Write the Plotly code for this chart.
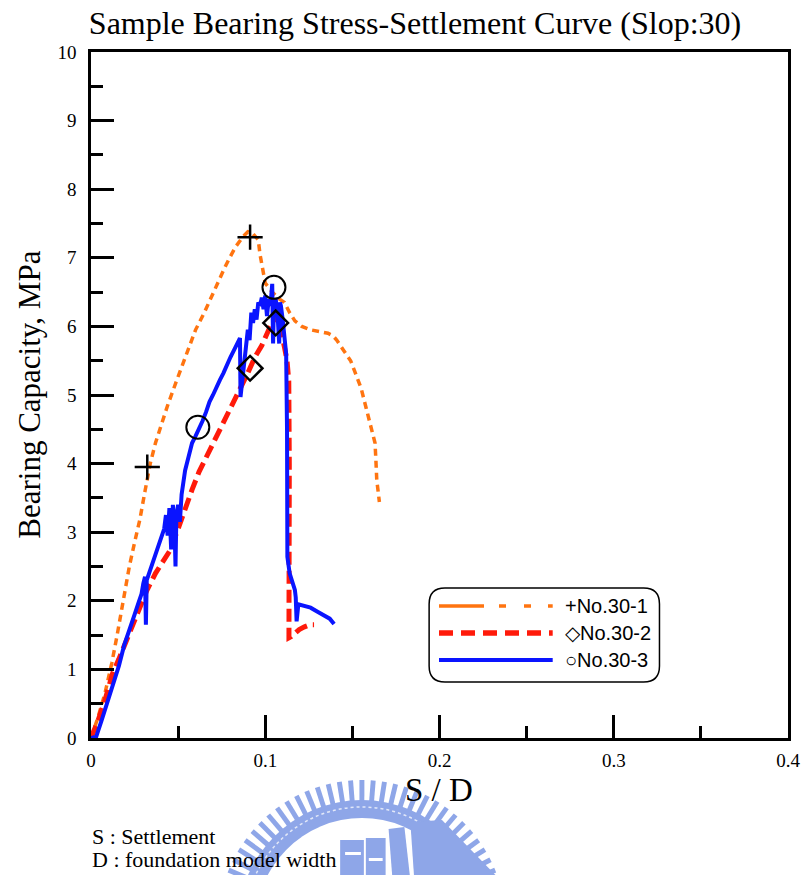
import math
import plotly.graph_objects as go

# ---- measured series: settlement ratio S/D vs bearing stress (MPa) ----
x_301 = [0, 0.004, 0.008, 0.012, 0.015, 0.018, 0.022, 0.025, 0.028, 0.031, 0.034, 0.037,
         0.040, 0.044, 0.049, 0.054, 0.060, 0.065, 0.069, 0.073, 0.077, 0.080, 0.083, 0.087,
         0.090, 0.093, 0.096, 0.097, 0.098, 0.100, 0.104, 0.108, 0.111, 0.114, 0.117, 0.121,
         0.126, 0.131, 0.136, 0.139, 0.141, 0.145, 0.149, 0.152, 0.155, 0.158, 0.161, 0.163,
         0.1635, 0.164, 0.165, 0.1655]
y_301 = [0, 0.30, 0.65, 1.10, 1.50, 1.95, 2.50, 2.85, 3.18, 3.60, 4.00, 4.30,
         4.55, 4.85, 5.20, 5.55, 5.95, 6.20, 6.43, 6.65, 6.87, 7.02, 7.16, 7.30,
         7.38, 7.35, 7.26, 7.05, 6.90, 6.63, 6.50, 6.40, 6.35, 6.20, 6.08, 6.00,
         5.95, 5.92, 5.90, 5.86, 5.80, 5.65, 5.50, 5.30, 5.10, 4.80, 4.50, 4.30,
         4.05, 3.76, 3.55, 3.44]

x_302 = [0, 0.004, 0.008, 0.0125, 0.016, 0.020, 0.024, 0.028, 0.032, 0.037, 0.042, 0.045,
         0.050, 0.054, 0.058, 0.062, 0.066, 0.070, 0.074, 0.078, 0.082, 0.086, 0.090, 0.094,
         0.098, 0.102, 0.105, 0.107, 0.108, 0.1095, 0.111, 0.1125, 0.1135, 0.1138, 0.1138,
         0.1136, 0.115, 0.117, 0.1195, 0.1225, 0.1255, 0.128]
y_302 = [0, 0.25, 0.55, 0.95, 1.15, 1.40, 1.65, 1.90, 2.15, 2.40, 2.60, 2.72,
         3.05, 3.35, 3.62, 3.88, 4.08, 4.28, 4.50, 4.72, 4.92, 5.10, 5.32, 5.55,
         5.72, 5.95, 6.10, 6.18, 6.05, 5.90, 5.70, 5.50, 5.20, 4.00, 2.50,
         1.46, 1.48, 1.53, 1.58, 1.62, 1.65, 1.65]

x_303 = [0, 0.003, 0.006, 0.009, 0.0125, 0.016, 0.019, 0.022, 0.025, 0.027, 0.029, 0.030,
         0.031, 0.0315, 0.032, 0.034, 0.036, 0.038, 0.040, 0.042, 0.043, 0.044, 0.045, 0.046,
         0.047, 0.048, 0.0485, 0.049, 0.050, 0.051, 0.052, 0.054, 0.056, 0.058, 0.060, 0.062,
         0.064, 0.066, 0.068, 0.070, 0.072, 0.074, 0.076, 0.078, 0.080, 0.082, 0.084, 0.0855,
         0.0858, 0.087, 0.088, 0.089, 0.090, 0.091, 0.092, 0.093, 0.094, 0.095, 0.096, 0.097,
         0.098, 0.099, 0.100, 0.101, 0.102, 0.103, 0.104, 0.1045, 0.105, 0.106, 0.107, 0.108,
         0.1085, 0.109, 0.110, 0.111, 0.112, 0.1125, 0.1125, 0.1127, 0.114, 0.116, 0.117,
         0.1175, 0.118, 0.119, 0.122, 0.126, 0.130, 0.134, 0.137, 0.1395]
y_303 = [0, 0.02, 0.25, 0.50, 0.75, 1.05, 1.35, 1.60, 1.80, 1.95, 2.10, 2.25,
         2.35, 1.65, 2.30, 2.45, 2.60, 2.78, 2.90, 3.05, 3.25, 2.95, 3.35, 2.75,
         3.40, 3.00, 2.50, 3.25, 3.40, 3.15, 3.55, 3.90, 4.10, 4.30, 4.40, 4.50,
         4.62, 4.75, 4.90, 5.00, 5.12, 5.22, 5.32, 5.45, 5.55, 5.65, 5.75, 5.83,
         4.97, 5.25, 5.50, 5.70, 5.95, 5.80, 6.20, 6.05, 6.25, 6.10, 6.35, 6.30,
         6.42, 6.25, 6.45, 6.15, 6.40, 6.30, 6.62, 5.75, 6.35, 6.40, 6.20, 5.75,
         6.35, 6.30, 6.10, 5.85, 5.60, 4.50, 3.00, 2.64, 2.40, 2.25, 2.16,
         2.05, 1.70, 1.95, 1.93, 1.90, 1.84, 1.78, 1.74, 1.66]

# key points flagged on each curve
plus_x, plus_y = [0.0323, 0.0913], [3.95, 7.30]
diam_x, diam_y = [0.0913, 0.106], [5.39, 6.05]
circ_x, circ_y = [0.0613, 0.105], [4.53, 6.57]

series_names = ["No.30-1", "No.30-2", "No.30-3"]
series_glyphs = ["+", "\u25c7", "\u25cb"]
x_ticks = [0, 0.1, 0.2, 0.3, 0.4]
x_tick_text = ["0", "0.1", "0.2", "0.3", "0.4"]
y_ticks = list(range(0, 11))

ORANGE, RED, BLUE = "#ff7410", "#ff1a0a", "#0a14ff"
SERIF = "Liberation Serif, Times New Roman, serif"
SANS = "Liberation Sans, Arial, sans-serif"

# figure geometry (pixels)
W, H = 812, 875
L, R, T, B = 91, 16, 52, 137
PW, PH = W - L - R, H - T - B


def pp(px, py):
    """pixel position -> paper coordinates"""
    return (px - L) / PW, (H - B - py) / PH


fig = go.Figure()
fig.add_trace(go.Scatter(x=x_301, y=y_301, mode="lines", name=series_names[0],
                         line=dict(color=ORANGE, width=3.5, dash="7px,5px")))
fig.add_trace(go.Scatter(x=x_302, y=y_302, mode="lines", name=series_names[1],
                         line=dict(color=RED, width=5, dash="13px,6px")))
fig.add_trace(go.Scatter(x=x_303, y=y_303, mode="lines", name=series_names[2],
                         line=dict(color=BLUE, width=4)))
fig.add_trace(go.Scatter(x=plus_x, y=plus_y, mode="markers", showlegend=False,
                         marker=dict(symbol="cross-thin-open", size=18, color="black",
                                     line=dict(color="black", width=2.5))))
fig.add_trace(go.Scatter(x=diam_x, y=diam_y, mode="markers", showlegend=False,
                         marker=dict(symbol="diamond-open", size=19, color="black",
                                     line=dict(color="black", width=2.5))))
fig.add_trace(go.Scatter(x=circ_x, y=circ_y, mode="markers", showlegend=False,
                         marker=dict(symbol="circle-open", size=23, color="black",
                                     line=dict(color="black", width=2))))

shapes = []

# ---- faint emblem below the axis ----
EMB = "#8ea6e8"
cx, cy = 365, 926
teeth = 80
for k in range(teeth):
    a = 2 * math.pi * k / teeth
    half = math.radians(1.15)
    r0, r1 = 124, 146
    pts = []
    for rr, aa in [(r0, a - half), (r1, a - half * 0.85), (r1, a + half * 0.85), (r0, a + half)]:
        pts.append(pp(cx + rr * math.cos(aa), cy - rr * math.sin(aa)))
    path = "M " + " L ".join(f"{p[0]:.5f},{p[1]:.5f}" for p in pts) + " Z"
    shapes.append(dict(type="path", xref="paper", yref="paper", path=path,
                       fillcolor=EMB, line=dict(width=0), layer="below"))


def circ(r, **kw):
    x0, y0 = pp(cx - r, cy + r)
    x1, y1 = pp(cx + r, cy - r)
    d = dict(type="circle", xref="paper", yref="paper", x0=x0, y0=y0, x1=x1, y1=y1,
             layer="below")
    d.update(kw)
    return d


shapes.append(circ(126, fillcolor=EMB, line=dict(width=0)))
shapes.append(circ(108, fillcolor="white", line=dict(width=0)))
shapes.append(circ(119, line=dict(color="#e2e8f8", width=1.5, dash="dot")))


def poly(points, color=EMB):
    pts = [pp(*p) for p in points]
    path = "M " + " L ".join(f"{p[0]:.5f},{p[1]:.5f}" for p in pts) + " Z"
    return dict(type="path", xref="paper", yref="paper", path=path,
                fillcolor=color, line=dict(width=0), layer="below")


shapes.append(poly([(343, 840), (367, 840), (367, 880), (343, 880)]))
shapes.append(poly([(369, 838), (389, 838), (389, 880), (369, 880)]))
shapes.append(poly([(392, 829), (408, 827), (414, 880), (396, 880)]))
shapes.append(poly([(414, 822), (446, 820), (505, 880), (418, 880)]))
shapes.append(poly([(348, 852), (364, 852), (364, 855), (348, 855)], "white"))
shapes.append(poly([(372, 858), (386, 858), (386, 861), (372, 861)], "white"))

# ---- legend box with rounded corners ----
bx0, by0, bx1, by1, rad = 433, 588, 666, 682, 16
corner_pts = [
    ("M", [(bx0 + rad, by0)]), ("L", [(bx1 - rad, by0)]),
    ("Q", [(bx1, by0), (bx1, by0 + rad)]), ("L", [(bx1, by1 - rad)]),
    ("Q", [(bx1, by1), (bx1 - rad, by1)]), ("L", [(bx0 + rad, by1)]),
    ("Q", [(bx0, by1), (bx0, by1 - rad)]), ("L", [(bx0, by0 + rad)]),
    ("Q", [(bx0, by0), (bx0 + rad, by0)]),
]
segs = []
for cmd, pts in corner_pts:
    segs.append(cmd + " " + " ".join(f"{pp(*p)[0]:.5f},{pp(*p)[1]:.5f}" for p in pts))
shapes.append(dict(type="path", xref="paper", yref="paper", path=" ".join(segs) + " Z",
                   fillcolor="white", line=dict(color="black", width=1.5), layer="above"))

legend_rows = [
    (606, ORANGE, 3.5, "45px,15px,7px,18px,7px,17px,7px"),
    (633, RED, 5.5, "14px,8px"),
    (660, BLUE, 4, "solid"),
]
annotations = []
for (ly, col, wd, dsh), nm, gl in zip(legend_rows, series_names, series_glyphs):
    x0, y0 = pp(443, ly)
    x1, _ = pp(558, ly)
    shapes.append(dict(type="line", xref="paper", yref="paper", x0=x0, y0=y0, x1=x1, y1=y0,
                       line=dict(color=col, width=wd, dash=dsh), layer="above"))
    tx, ty = pp(568, ly)
    annotations.append(dict(xref="paper", yref="paper", x=tx, y=ty, xanchor="left",
                            yanchor="middle", showarrow=False, text=gl + nm,
                            font=dict(family=SANS, size=20, color="black")))

# axis titles and notes
ax, ay = pp(443, 790)
annotations.append(dict(xref="paper", yref="paper", x=ax, y=ay, xanchor="center",
                        yanchor="middle", showarrow=False, text="S / D",
                        font=dict(family=SERIF, size=33, color="black")))
lx, ly_ = pp(28, 395)
annotations.append(dict(xref="paper", yref="paper", x=lx, y=ly_, xanchor="center",
                        yanchor="middle", showarrow=False, textangle=-90,
                        text="Bearing Capacity, MPa",
                        font=dict(family=SERIF, size=31, color="black")))
for txt, ny in [("S : Settlement", 836), ("D : foundation model width", 859)]:
    nx, nyp = pp(90, ny)
    annotations.append(dict(xref="paper", yref="paper", x=nx, y=nyp, xanchor="left",
                            yanchor="middle", showarrow=False, text=txt,
                            font=dict(family=SERIF, size=22, color="black")))

axis_common = dict(showline=True, linecolor="black", linewidth=2.5, mirror=True,
                   showgrid=False, zeroline=False, ticks="inside", ticklen=23,
                   tickwidth=2.5, tickcolor="black",
                   tickfont=dict(family=SERIF, size=19, color="black"))

fig.update_layout(
    width=W, height=H,
    margin=dict(l=L, r=R, t=T, b=B, pad=0),
    paper_bgcolor="white", plot_bgcolor="white",
    showlegend=False,
    title=dict(text="Sample Bearing Stress-Settlement Curve (Slop:30)",
               x=415 / W, xanchor="center", y=1 - 23 / H, yanchor="middle",
               font=dict(family=SERIF, size=32, color="black")),
    xaxis=dict(range=[0, 0.4], tickvals=x_ticks, ticktext=x_tick_text,
               ticklabelstandoff=3,
               minor=dict(ticks="inside", ticklen=12, tickwidth=2.5, tickcolor="black",
                          dtick=0.05),
               **axis_common),
    yaxis=dict(range=[0, 10], tickvals=y_ticks, ticklabelstandoff=8,
               minor=dict(ticks="inside", ticklen=12, tickwidth=2.5, tickcolor="black",
                          dtick=0.5),
               **axis_common),
    shapes=shapes,
    annotations=annotations,
)

fig.write_html("out.html")
